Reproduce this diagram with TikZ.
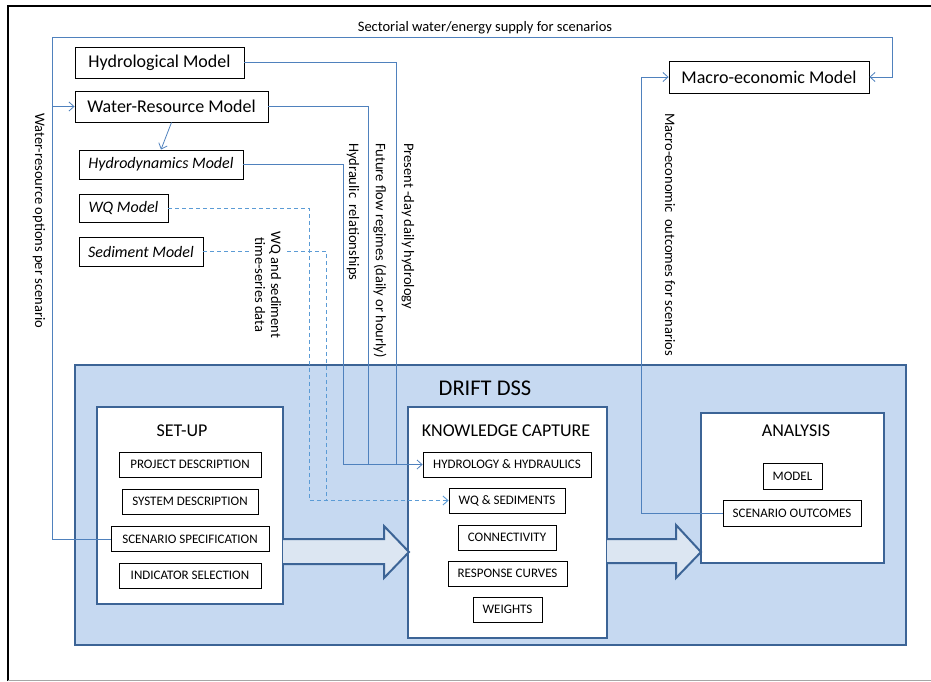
\documentclass[tikz,border=0pt]{standalone}
\usepackage{fontspec}
\setmainfont{Carlito}
\usepackage{xcolor}
\usetikzlibrary{arrows.meta,positioning,calc}
\definecolor{linkblue}{HTML}{4F81BD}
\definecolor{dashblue}{HTML}{5B9BD5}
\definecolor{dssfill}{HTML}{C6D9F1}
\definecolor{dssdraw}{HTML}{3C6496}
\definecolor{arrowfill}{HTML}{DCE6F2}

\begin{document}
\begin{tikzpicture}[
    % GLOBAL CFG
    x=1pt, y=-1pt,
    >={Straight Barb[length=5pt,width=9pt]},
    % Styles
    model/.style={% For the outside models
        rectangle,
        draw,
        line width=.9pt,
        inner sep=0pt,
        font=\fontsize{18}{20}\selectfont,
        },
    submodel/.style={% italic models
        model,
        font=\fontsize{16}{18}\selectfont\itshape,
        },
    dss/.style={% the big blue box
        rectangle,
        draw=dssdraw,
        line width=2.2pt,
        fill=dssfill,
        },
    panel/.style={% white boxes inside DSS
        rectangle,
        draw=dssdraw,
        line width=2pt,
        fill=white,
        },
    paneltitle/.style={%
        inner sep=0pt,
        font=\fontsize{18}{20}\selectfont,
        },
    item/.style={% small boxes in the panels
        rectangle,
        draw,
        line width=.8pt,
        fill=white,
        inner sep=0pt,
        minimum height=25pt,
        font=\fontsize{13}{15}\selectfont,
        },
    flow/.style={%
        draw=linkblue,
        line width=.8pt,
        },
    dflow/.style={%
        draw=dashblue,
        line width=.9pt,
        dash pattern=on 4pt off 3pt,
        },
    vlabel/.style={% labels along the vertical lines
        rotate=-90,
        anchor=west,
        inner sep=0pt,
        font=\fontsize{14.5}{16}\selectfont,
        },
    bigarrow/.style={%
        draw=dssdraw,
        line width=2pt,
        fill=arrowfill,
        line join=miter,
        },
    ]
\useasboundingbox (0,0) rectangle (931,681);

% frame
\draw[line width=2pt] (8,681) -- (8,6) -- (931,6);
\draw[gray!70, line width=1pt] (8,680) -- (931,680);

% models on top
\node[model, minimum width=169pt, minimum height=31pt] (hydro) at (159.5,62.5) {Hydrological Model};
\node[model, minimum width=193pt, minimum height=31pt] (wr) at (171.5,106.5) {Water-Resource Model};
\node[submodel, minimum width=164pt, minimum height=29pt] (hd) at (161,164.5) {Hydrodynamics Model};
\node[submodel, minimum width=89pt, minimum height=28pt] (wq) at (123.5,208) {WQ Model};
\node[submodel, minimum width=124pt, minimum height=29pt] (sed) at (141,251.5) {Sediment Model};
\node[model, minimum width=200pt, minimum height=32pt] (macro) at (769,77) {Macro-economic Model};

% DRIFT DSS
\node[dss, minimum width=831pt, minimum height=280pt] (dss) at (490.5,505) {};
\node[inner sep=0pt, font=\fontsize{22.5}{24}\selectfont] (dsstitle) at (485,388) {DRIFT DSS};

\node[panel, minimum width=186pt, minimum height=197pt] (setup) at (190,505.5) {};
\node[panel, minimum width=199pt, minimum height=231pt] (kc) at (507.5,522.5) {};
\node[panel, minimum width=183pt, minimum height=150pt] (an) at (792.5,488) {};

\node[paneltitle] (setuptitle) at (182,431) {SET-UP};
\node[paneltitle] (kctitle) at (506,431) {KNOWLEDGE CAPTURE};
\node[paneltitle] (antitle) at (796,431) {ANALYSIS};

% set-up items
\node[item, minimum width=142pt] (pd) at (190,464.5) {PROJECT DESCRIPTION};
\node[item, minimum width=136pt] (sd) at (190,501.5) {SYSTEM DESCRIPTION};
\node[item, minimum width=158pt] (ss) at (190,539) {SCENARIO SPECIFICATION};
\node[item, minimum width=142pt] (is) at (190,575.5) {INDICATOR SELECTION};

% knowledge capture items
\node[item, minimum width=168pt] (hh) at (507,464.5) {HYDROLOGY \& HYDRAULICS};
\node[item, minimum width=116pt] (wqs) at (507,500.5) {WQ \& SEDIMENTS};
\node[item, minimum width=98pt] (con) at (507,537.5) {CONNECTIVITY};
\node[item, minimum width=119pt] (rc) at (507.5,573.5) {RESPONSE CURVES};
\node[item, minimum width=69pt] (wt) at (507.5,609.5) {WEIGHTS};

% analysis items
\node[item, minimum width=59pt, minimum height=26pt] (mdl) at (792.5,476) {MODEL};
\node[item, minimum width=138pt, minimum height=26pt] (so) at (792,513) {SCENARIO OUTCOMES};

% big arrows between the panels
\path[bigarrow] (283,539) -- (384,539) -- (384,526) -- (409,552) -- (384,578) -- (384,564) -- (283,564);
\path[bigarrow] (607,539) -- (676,539) -- (676,525) -- (701,552) -- (676,578) -- (676,563) -- (607,563);

% scenario loop round the top
\coordinate (cleft) at (52,37);
\coordinate (cright) at (892,37);
\draw[flow, ->] (ss.west) -| (cleft) -- (cright) |- (macro.east);
\draw[flow, ->] (cleft |- wr.west) -- (wr.west);
\draw[flow, ->] (wr.south) -- (hd.north);
\node[inner sep=0pt, font=\fontsize{14.5}{16}\selectfont] (toplabel) at (485,28) {Sectorial water/energy supply for scenarios};
\node[vlabel] (leftlabel) at (39,113) {Water-resource options per scenario};

% hydrology into knowledge capture
\draw[flow] (hydro.east) -| ($(hh.west)+(-26,0)$);
\draw[flow] (wr.east) -| ($(hh.west)+(-54,0)$);
\draw[flow, ->] (hd.east) -| ($(hh.west)+(-79,0)$) -- (hh.west);
\node[vlabel] (hydlabel) at (353,143) {Hydraulic\ \ relationships};
\node[vlabel] (futlabel) at (380,143) {Future flow regimes (daily or hourly)};
\node[vlabel] (preslabel) at (408,143) {Present -day daily hydrology};

% wq and sediment
\draw[dflow, ->] (wq.east) -| ($(wqs.west)+(-139,0)$) -- (wqs.west);
\draw[dflow] (sed.east) -| ($(wqs.west)+(-122,0)$);
\node[vlabel, anchor=center, fill=white, inner sep=3pt, align=center] (wqlabel) at (268,285) {WQ and sediment\\time-series data};

% macro-economic outcomes
\draw[flow, ->] (so.west) -| ($(macro.west)+(-27,0)$) -- (macro.west);
\node[vlabel] (maclabel) at (670,113) {Macro-economic\ \ outcomes for scenarios};
\end{tikzpicture}
\end{document}
